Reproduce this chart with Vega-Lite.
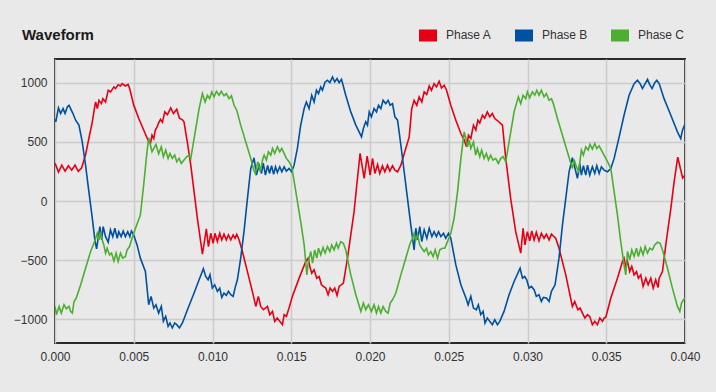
{
"$schema": "https://vega.github.io/schema/vega-lite/v6.json",
"width": 630, "height": 284,
"autosize": "none",
"padding": {"left": 55, "top": 59, "right": 31, "bottom": 49},
"background": "#e9e9e9",
"title": {"text": "Waveform", "anchor": "start", "frame": "group", "dx": -33, "dy": 33, "offset": 16, "fontSize": 15, "font": "Liberation Sans", "fontWeight": "bold", "color": "#1a1a1a"},
"data": {"values": [
{"p":"Phase A","t":0,"v":320},{"p":"Phase A","t":0.00022,"v":245},{"p":"Phase A","t":0.00043,"v":303},{"p":"Phase A","t":0.00064,"v":253},{"p":"Phase A","t":0.00085,"v":298},{"p":"Phase A","t":0.00106,"v":261},{"p":"Phase A","t":0.00127,"v":303},{"p":"Phase A","t":0.00148,"v":250},{"p":"Phase A","t":0.00169,"v":280},{"p":"Phase A","t":0.00194,"v":390},{"p":"Phase A","t":0.00215,"v":528},{"p":"Phase A","t":0.00237,"v":669},{"p":"Phase A","t":0.0025,"v":781},{"p":"Phase A","t":0.00258,"v":837},{"p":"Phase A","t":0.00269,"v":781},{"p":"Phase A","t":0.00279,"v":851},{"p":"Phase A","t":0.00295,"v":823},{"p":"Phase A","t":0.00304,"v":865},{"p":"Phase A","t":0.00321,"v":837},{"p":"Phase A","t":0.00338,"v":936},{"p":"Phase A","t":0.00353,"v":922},{"p":"Phase A","t":0.00374,"v":964},{"p":"Phase A","t":0.00384,"v":950},{"p":"Phase A","t":0.00401,"v":983},{"p":"Phase A","t":0.00416,"v":972},{"p":"Phase A","t":0.00426,"v":992},{"p":"Phase A","t":0.00447,"v":972},{"p":"Phase A","t":0.00464,"v":985},{"p":"Phase A","t":0.00473,"v":955},{"p":"Phase A","t":0.005,"v":810},{"p":"Phase A","t":0.00532,"v":697},{"p":"Phase A","t":0.00563,"v":600},{"p":"Phase A","t":0.00595,"v":500},{"p":"Phase A","t":0.00606,"v":486},{"p":"Phase A","t":0.00616,"v":556},{"p":"Phase A","t":0.00627,"v":528},{"p":"Phase A","t":0.00637,"v":599},{"p":"Phase A","t":0.00648,"v":627},{"p":"Phase A","t":0.00658,"v":660},{"p":"Phase A","t":0.0067,"v":690},{"p":"Phase A","t":0.00682,"v":665},{"p":"Phase A","t":0.00697,"v":753},{"p":"Phase A","t":0.00714,"v":730},{"p":"Phase A","t":0.00735,"v":787},{"p":"Phase A","t":0.00752,"v":739},{"p":"Phase A","t":0.00773,"v":776},{"p":"Phase A","t":0.0079,"v":700},{"p":"Phase A","t":0.00809,"v":686},{"p":"Phase A","t":0.00819,"v":669},{"p":"Phase A","t":0.0084,"v":500},{"p":"Phase A","t":0.00862,"v":303},{"p":"Phase A","t":0.00883,"v":79},{"p":"Phase A","t":0.00904,"v":-146},{"p":"Phase A","t":0.00936,"v":-450},{"p":"Phase A","t":0.00961,"v":-236},{"p":"Phase A","t":0.00974,"v":-385},{"p":"Phase A","t":0.00989,"v":-273},{"p":"Phase A","t":0.01004,"v":-357},{"p":"Phase A","t":0.01016,"v":-273},{"p":"Phase A","t":0.01031,"v":-343},{"p":"Phase A","t":0.01046,"v":-273},{"p":"Phase A","t":0.01059,"v":-329},{"p":"Phase A","t":0.01073,"v":-281},{"p":"Phase A","t":0.01088,"v":-329},{"p":"Phase A","t":0.01101,"v":-287},{"p":"Phase A","t":0.01116,"v":-329},{"p":"Phase A","t":0.01131,"v":-287},{"p":"Phase A","t":0.01143,"v":-315},{"p":"Phase A","t":0.01154,"v":-281},{"p":"Phase A","t":0.01169,"v":-329},{"p":"Phase A","t":0.0119,"v":-427},{"p":"Phase A","t":0.01211,"v":-540},{"p":"Phase A","t":0.01232,"v":-652},{"p":"Phase A","t":0.01253,"v":-764},{"p":"Phase A","t":0.01275,"v":-891},{"p":"Phase A","t":0.01291,"v":-806},{"p":"Phase A","t":0.01306,"v":-891},{"p":"Phase A","t":0.01323,"v":-919},{"p":"Phase A","t":0.01349,"v":-891},{"p":"Phase A","t":0.01364,"v":-961},{"p":"Phase A","t":0.01381,"v":-933},{"p":"Phase A","t":0.01395,"v":-1017},{"p":"Phase A","t":0.01412,"v":-989},{"p":"Phase A","t":0.01427,"v":-1017},{"p":"Phase A","t":0.01444,"v":-1045},{"p":"Phase A","t":0.01455,"v":-961},{"p":"Phase A","t":0.01469,"v":-975},{"p":"Phase A","t":0.01486,"v":-905},{"p":"Phase A","t":0.01507,"v":-806},{"p":"Phase A","t":0.0155,"v":-652},{"p":"Phase A","t":0.01592,"v":-511},{"p":"Phase A","t":0.01607,"v":-483},{"p":"Phase A","t":0.01618,"v":-553},{"p":"Phase A","t":0.0163,"v":-610},{"p":"Phase A","t":0.01645,"v":-582},{"p":"Phase A","t":0.01662,"v":-652},{"p":"Phase A","t":0.01677,"v":-638},{"p":"Phase A","t":0.01692,"v":-708},{"p":"Phase A","t":0.01704,"v":-722},{"p":"Phase A","t":0.01719,"v":-736},{"p":"Phase A","t":0.01734,"v":-792},{"p":"Phase A","t":0.01747,"v":-736},{"p":"Phase A","t":0.01762,"v":-764},{"p":"Phase A","t":0.01776,"v":-736},{"p":"Phase A","t":0.01791,"v":-798},{"p":"Phase A","t":0.01804,"v":-722},{"p":"Phase A","t":0.01831,"v":-694},{"p":"Phase A","t":0.01857,"v":-483},{"p":"Phase A","t":0.01878,"v":-287},{"p":"Phase A","t":0.01899,"v":-90},{"p":"Phase A","t":0.01916,"v":135},{"p":"Phase A","t":0.01937,"v":402},{"p":"Phase A","t":0.01963,"v":191},{"p":"Phase A","t":0.01982,"v":380},{"p":"Phase A","t":0.02001,"v":219},{"p":"Phase A","t":0.02016,"v":360},{"p":"Phase A","t":0.02031,"v":233},{"p":"Phase A","t":0.02048,"v":309},{"p":"Phase A","t":0.02062,"v":233},{"p":"Phase A","t":0.02079,"v":298},{"p":"Phase A","t":0.02094,"v":247},{"p":"Phase A","t":0.02111,"v":303},{"p":"Phase A","t":0.02126,"v":253},{"p":"Phase A","t":0.02143,"v":298},{"p":"Phase A","t":0.02158,"v":261},{"p":"Phase A","t":0.02175,"v":247},{"p":"Phase A","t":0.02196,"v":303},{"p":"Phase A","t":0.02221,"v":416},{"p":"Phase A","t":0.02249,"v":542},{"p":"Phase A","t":0.02265,"v":780},{"p":"Phase A","t":0.0228,"v":851},{"p":"Phase A","t":0.02297,"v":809},{"p":"Phase A","t":0.02312,"v":880},{"p":"Phase A","t":0.02329,"v":837},{"p":"Phase A","t":0.02344,"v":922},{"p":"Phase A","t":0.0236,"v":900},{"p":"Phase A","t":0.02376,"v":972},{"p":"Phase A","t":0.0239,"v":936},{"p":"Phase A","t":0.02407,"v":992},{"p":"Phase A","t":0.02422,"v":964},{"p":"Phase A","t":0.02439,"v":1012},{"p":"Phase A","t":0.02454,"v":955},{"p":"Phase A","t":0.02471,"v":978},{"p":"Phase A","t":0.02486,"v":936},{"p":"Phase A","t":0.02513,"v":809},{"p":"Phase A","t":0.02545,"v":683},{"p":"Phase A","t":0.02577,"v":570},{"p":"Phase A","t":0.02598,"v":514},{"p":"Phase A","t":0.02613,"v":458},{"p":"Phase A","t":0.02625,"v":556},{"p":"Phase A","t":0.0264,"v":528},{"p":"Phase A","t":0.02657,"v":641},{"p":"Phase A","t":0.02672,"v":600},{"p":"Phase A","t":0.02685,"v":683},{"p":"Phase A","t":0.02697,"v":660},{"p":"Phase A","t":0.02714,"v":725},{"p":"Phase A","t":0.02728,"v":700},{"p":"Phase A","t":0.02745,"v":753},{"p":"Phase A","t":0.0276,"v":711},{"p":"Phase A","t":0.02777,"v":739},{"p":"Phase A","t":0.02792,"v":697},{"p":"Phase A","t":0.02809,"v":680},{"p":"Phase A","t":0.02841,"v":641},{"p":"Phase A","t":0.02862,"v":360},{"p":"Phase A","t":0.02893,"v":22},{"p":"Phase A","t":0.02925,"v":-259},{"p":"Phase A","t":0.02957,"v":-441},{"p":"Phase A","t":0.02972,"v":-230},{"p":"Phase A","t":0.02984,"v":-371},{"p":"Phase A","t":0.02999,"v":-259},{"p":"Phase A","t":0.03014,"v":-337},{"p":"Phase A","t":0.03027,"v":-253},{"p":"Phase A","t":0.03042,"v":-329},{"p":"Phase A","t":0.03056,"v":-264},{"p":"Phase A","t":0.03073,"v":-337},{"p":"Phase A","t":0.03088,"v":-273},{"p":"Phase A","t":0.03105,"v":-315},{"p":"Phase A","t":0.0312,"v":-281},{"p":"Phase A","t":0.03137,"v":-329},{"p":"Phase A","t":0.03152,"v":-281},{"p":"Phase A","t":0.03179,"v":-315},{"p":"Phase A","t":0.032,"v":-399},{"p":"Phase A","t":0.03243,"v":-624},{"p":"Phase A","t":0.03285,"v":-891},{"p":"Phase A","t":0.033,"v":-849},{"p":"Phase A","t":0.0332,"v":-919},{"p":"Phase A","t":0.03334,"v":-905},{"p":"Phase A","t":0.03349,"v":-947},{"p":"Phase A","t":0.03364,"v":-989},{"p":"Phase A","t":0.03381,"v":-961},{"p":"Phase A","t":0.03395,"v":-975},{"p":"Phase A","t":0.03412,"v":-1045},{"p":"Phase A","t":0.03427,"v":-1017},{"p":"Phase A","t":0.03444,"v":-1045},{"p":"Phase A","t":0.03459,"v":-989},{"p":"Phase A","t":0.03476,"v":-1017},{"p":"Phase A","t":0.03486,"v":-989},{"p":"Phase A","t":0.03497,"v":-983},{"p":"Phase A","t":0.03529,"v":-820},{"p":"Phase A","t":0.03571,"v":-652},{"p":"Phase A","t":0.03603,"v":-511},{"p":"Phase A","t":0.03613,"v":-483},{"p":"Phase A","t":0.03624,"v":-553},{"p":"Phase A","t":0.03635,"v":-511},{"p":"Phase A","t":0.03649,"v":-596},{"p":"Phase A","t":0.03662,"v":-553},{"p":"Phase A","t":0.03677,"v":-624},{"p":"Phase A","t":0.03692,"v":-596},{"p":"Phase A","t":0.03704,"v":-652},{"p":"Phase A","t":0.03719,"v":-624},{"p":"Phase A","t":0.03734,"v":-722},{"p":"Phase A","t":0.03751,"v":-652},{"p":"Phase A","t":0.03766,"v":-708},{"p":"Phase A","t":0.03783,"v":-652},{"p":"Phase A","t":0.03798,"v":-736},{"p":"Phase A","t":0.03814,"v":-666},{"p":"Phase A","t":0.03829,"v":-731},{"p":"Phase A","t":0.03836,"v":-652},{"p":"Phase A","t":0.03857,"v":-596},{"p":"Phase A","t":0.03878,"v":-371},{"p":"Phase A","t":0.0391,"v":-62},{"p":"Phase A","t":0.03931,"v":163},{"p":"Phase A","t":0.03954,"v":370},{"p":"Phase A","t":0.03985,"v":194},{"p":"Phase A","t":0.04,"v":220},
{"p":"Phase B","t":0,"v":690},{"p":"Phase B","t":0.00005,"v":669},{"p":"Phase B","t":0.00022,"v":787},{"p":"Phase B","t":0.00036,"v":739},{"p":"Phase B","t":0.00051,"v":781},{"p":"Phase B","t":0.00064,"v":739},{"p":"Phase B","t":0.00078,"v":795},{"p":"Phase B","t":0.00089,"v":809},{"p":"Phase B","t":0.00099,"v":781},{"p":"Phase B","t":0.00114,"v":739},{"p":"Phase B","t":0.00131,"v":683},{"p":"Phase B","t":0.00152,"v":641},{"p":"Phase B","t":0.00173,"v":500},{"p":"Phase B","t":0.00194,"v":303},{"p":"Phase B","t":0.00215,"v":79},{"p":"Phase B","t":0.00237,"v":-146},{"p":"Phase B","t":0.00253,"v":-329},{"p":"Phase B","t":0.00264,"v":-405},{"p":"Phase B","t":0.00274,"v":-315},{"p":"Phase B","t":0.00285,"v":-216},{"p":"Phase B","t":0.00296,"v":-329},{"p":"Phase B","t":0.00306,"v":-216},{"p":"Phase B","t":0.00321,"v":-301},{"p":"Phase B","t":0.00338,"v":-348},{"p":"Phase B","t":0.00352,"v":-244},{"p":"Phase B","t":0.00367,"v":-301},{"p":"Phase B","t":0.0038,"v":-230},{"p":"Phase B","t":0.00395,"v":-315},{"p":"Phase B","t":0.00405,"v":-259},{"p":"Phase B","t":0.0042,"v":-301},{"p":"Phase B","t":0.00433,"v":-253},{"p":"Phase B","t":0.00447,"v":-301},{"p":"Phase B","t":0.00462,"v":-259},{"p":"Phase B","t":0.00475,"v":-301},{"p":"Phase B","t":0.00485,"v":-253},{"p":"Phase B","t":0.005,"v":-287},{"p":"Phase B","t":0.00521,"v":-371},{"p":"Phase B","t":0.00542,"v":-483},{"p":"Phase B","t":0.00574,"v":-596},{"p":"Phase B","t":0.00595,"v":-877},{"p":"Phase B","t":0.0061,"v":-806},{"p":"Phase B","t":0.00627,"v":-905},{"p":"Phase B","t":0.00641,"v":-877},{"p":"Phase B","t":0.00658,"v":-947},{"p":"Phase B","t":0.00675,"v":-891},{"p":"Phase B","t":0.00688,"v":-1017},{"p":"Phase B","t":0.00703,"v":-975},{"p":"Phase B","t":0.00718,"v":-1059},{"p":"Phase B","t":0.0073,"v":-1031},{"p":"Phase B","t":0.00745,"v":-1073},{"p":"Phase B","t":0.0076,"v":-1031},{"p":"Phase B","t":0.00773,"v":-1045},{"p":"Phase B","t":0.0079,"v":-1073},{"p":"Phase B","t":0.00809,"v":-1031},{"p":"Phase B","t":0.00841,"v":-919},{"p":"Phase B","t":0.00883,"v":-778},{"p":"Phase B","t":0.00915,"v":-666},{"p":"Phase B","t":0.00942,"v":-573},{"p":"Phase B","t":0.00957,"v":-638},{"p":"Phase B","t":0.00972,"v":-666},{"p":"Phase B","t":0.00984,"v":-624},{"p":"Phase B","t":0.00999,"v":-736},{"p":"Phase B","t":0.01014,"v":-708},{"p":"Phase B","t":0.01031,"v":-764},{"p":"Phase B","t":0.01046,"v":-736},{"p":"Phase B","t":0.01059,"v":-815},{"p":"Phase B","t":0.01073,"v":-778},{"p":"Phase B","t":0.01088,"v":-798},{"p":"Phase B","t":0.01101,"v":-764},{"p":"Phase B","t":0.01116,"v":-792},{"p":"Phase B","t":0.01131,"v":-806},{"p":"Phase B","t":0.01143,"v":-736},{"p":"Phase B","t":0.01158,"v":-666},{"p":"Phase B","t":0.01179,"v":-483},{"p":"Phase B","t":0.012,"v":-259},{"p":"Phase B","t":0.01222,"v":22},{"p":"Phase B","t":0.01243,"v":275},{"p":"Phase B","t":0.01264,"v":365},{"p":"Phase B","t":0.01279,"v":219},{"p":"Phase B","t":0.01296,"v":303},{"p":"Phase B","t":0.01311,"v":233},{"p":"Phase B","t":0.01322,"v":320},{"p":"Phase B","t":0.01336,"v":219},{"p":"Phase B","t":0.0135,"v":300},{"p":"Phase B","t":0.01362,"v":233},{"p":"Phase B","t":0.01375,"v":298},{"p":"Phase B","t":0.01388,"v":225},{"p":"Phase B","t":0.014,"v":289},{"p":"Phase B","t":0.01412,"v":241},{"p":"Phase B","t":0.01427,"v":289},{"p":"Phase B","t":0.0144,"v":247},{"p":"Phase B","t":0.01455,"v":289},{"p":"Phase B","t":0.01469,"v":253},{"p":"Phase B","t":0.01486,"v":275},{"p":"Phase B","t":0.01503,"v":247},{"p":"Phase B","t":0.01518,"v":303},{"p":"Phase B","t":0.01539,"v":444},{"p":"Phase B","t":0.0156,"v":641},{"p":"Phase B","t":0.01582,"v":781},{"p":"Phase B","t":0.01596,"v":837},{"p":"Phase B","t":0.01613,"v":781},{"p":"Phase B","t":0.0163,"v":894},{"p":"Phase B","t":0.01645,"v":837},{"p":"Phase B","t":0.0166,"v":936},{"p":"Phase B","t":0.01673,"v":908},{"p":"Phase B","t":0.01687,"v":964},{"p":"Phase B","t":0.01698,"v":936},{"p":"Phase B","t":0.01715,"v":1006},{"p":"Phase B","t":0.0173,"v":1020},{"p":"Phase B","t":0.01745,"v":1000},{"p":"Phase B","t":0.01762,"v":1048},{"p":"Phase B","t":0.01776,"v":1006},{"p":"Phase B","t":0.01791,"v":1034},{"p":"Phase B","t":0.01804,"v":1000},{"p":"Phase B","t":0.01819,"v":1028},{"p":"Phase B","t":0.01846,"v":894},{"p":"Phase B","t":0.01878,"v":753},{"p":"Phase B","t":0.0191,"v":641},{"p":"Phase B","t":0.01946,"v":542},{"p":"Phase B","t":0.01958,"v":613},{"p":"Phase B","t":0.01973,"v":669},{"p":"Phase B","t":0.01984,"v":641},{"p":"Phase B","t":0.01995,"v":753},{"p":"Phase B","t":0.02009,"v":711},{"p":"Phase B","t":0.02026,"v":781},{"p":"Phase B","t":0.02041,"v":753},{"p":"Phase B","t":0.02054,"v":809},{"p":"Phase B","t":0.02069,"v":781},{"p":"Phase B","t":0.02083,"v":851},{"p":"Phase B","t":0.021,"v":823},{"p":"Phase B","t":0.02115,"v":851},{"p":"Phase B","t":0.02128,"v":809},{"p":"Phase B","t":0.02143,"v":823},{"p":"Phase B","t":0.02158,"v":711},{"p":"Phase B","t":0.02175,"v":683},{"p":"Phase B","t":0.02196,"v":472},{"p":"Phase B","t":0.02217,"v":247},{"p":"Phase B","t":0.02238,"v":22},{"p":"Phase B","t":0.02259,"v":-202},{"p":"Phase B","t":0.0228,"v":-413},{"p":"Phase B","t":0.02291,"v":-230},{"p":"Phase B","t":0.02302,"v":-329},{"p":"Phase B","t":0.02316,"v":-216},{"p":"Phase B","t":0.02329,"v":-343},{"p":"Phase B","t":0.02344,"v":-244},{"p":"Phase B","t":0.02361,"v":-315},{"p":"Phase B","t":0.02376,"v":-230},{"p":"Phase B","t":0.02393,"v":-301},{"p":"Phase B","t":0.02407,"v":-259},{"p":"Phase B","t":0.02422,"v":-301},{"p":"Phase B","t":0.02435,"v":-259},{"p":"Phase B","t":0.0245,"v":-301},{"p":"Phase B","t":0.02467,"v":-273},{"p":"Phase B","t":0.02481,"v":-315},{"p":"Phase B","t":0.02498,"v":-273},{"p":"Phase B","t":0.02513,"v":-315},{"p":"Phase B","t":0.02545,"v":-540},{"p":"Phase B","t":0.02577,"v":-708},{"p":"Phase B","t":0.02609,"v":-820},{"p":"Phase B","t":0.02623,"v":-877},{"p":"Phase B","t":0.0264,"v":-806},{"p":"Phase B","t":0.02657,"v":-905},{"p":"Phase B","t":0.02675,"v":-919},{"p":"Phase B","t":0.02688,"v":-877},{"p":"Phase B","t":0.02703,"v":-961},{"p":"Phase B","t":0.02718,"v":-933},{"p":"Phase B","t":0.0273,"v":-1031},{"p":"Phase B","t":0.02745,"v":-989},{"p":"Phase B","t":0.0276,"v":-1017},{"p":"Phase B","t":0.02777,"v":-1045},{"p":"Phase B","t":0.02792,"v":-1003},{"p":"Phase B","t":0.02809,"v":-1045},{"p":"Phase B","t":0.02824,"v":-1017},{"p":"Phase B","t":0.02851,"v":-933},{"p":"Phase B","t":0.02883,"v":-792},{"p":"Phase B","t":0.02915,"v":-680},{"p":"Phase B","t":0.02953,"v":-568},{"p":"Phase B","t":0.02968,"v":-652},{"p":"Phase B","t":0.02982,"v":-638},{"p":"Phase B","t":0.02995,"v":-666},{"p":"Phase B","t":0.0301,"v":-736},{"p":"Phase B","t":0.03025,"v":-722},{"p":"Phase B","t":0.03042,"v":-750},{"p":"Phase B","t":0.03056,"v":-806},{"p":"Phase B","t":0.03073,"v":-792},{"p":"Phase B","t":0.03088,"v":-849},{"p":"Phase B","t":0.03101,"v":-815},{"p":"Phase B","t":0.0312,"v":-820},{"p":"Phase B","t":0.03137,"v":-849},{"p":"Phase B","t":0.03152,"v":-764},{"p":"Phase B","t":0.03175,"v":-708},{"p":"Phase B","t":0.032,"v":-483},{"p":"Phase B","t":0.03222,"v":-202},{"p":"Phase B","t":0.03243,"v":22},{"p":"Phase B","t":0.03264,"v":247},{"p":"Phase B","t":0.03285,"v":365},{"p":"Phase B","t":0.03302,"v":275},{"p":"Phase B","t":0.03317,"v":191},{"p":"Phase B","t":0.03332,"v":318},{"p":"Phase B","t":0.03342,"v":219},{"p":"Phase B","t":0.03355,"v":298},{"p":"Phase B","t":0.0337,"v":219},{"p":"Phase B","t":0.03381,"v":303},{"p":"Phase B","t":0.03395,"v":219},{"p":"Phase B","t":0.03412,"v":289},{"p":"Phase B","t":0.03427,"v":233},{"p":"Phase B","t":0.0344,"v":298},{"p":"Phase B","t":0.03455,"v":233},{"p":"Phase B","t":0.03469,"v":289},{"p":"Phase B","t":0.03486,"v":261},{"p":"Phase B","t":0.03508,"v":247},{"p":"Phase B","t":0.03529,"v":275},{"p":"Phase B","t":0.0355,"v":360},{"p":"Phase B","t":0.03582,"v":542},{"p":"Phase B","t":0.03613,"v":725},{"p":"Phase B","t":0.03645,"v":894},{"p":"Phase B","t":0.03677,"v":992},{"p":"Phase B","t":0.03698,"v":1020},{"p":"Phase B","t":0.03715,"v":992},{"p":"Phase B","t":0.0373,"v":950},{"p":"Phase B","t":0.03747,"v":992},{"p":"Phase B","t":0.03762,"v":1028},{"p":"Phase B","t":0.03776,"v":983},{"p":"Phase B","t":0.03791,"v":950},{"p":"Phase B","t":0.03808,"v":1000},{"p":"Phase B","t":0.03821,"v":1020},{"p":"Phase B","t":0.03836,"v":992},{"p":"Phase B","t":0.03867,"v":865},{"p":"Phase B","t":0.0391,"v":725},{"p":"Phase B","t":0.03952,"v":584},{"p":"Phase B","t":0.03973,"v":528},{"p":"Phase B","t":0.03984,"v":599},{"p":"Phase B","t":0.04,"v":650},
{"p":"Phase C","t":0,"v":-891},{"p":"Phase C","t":0.00009,"v":-961},{"p":"Phase C","t":0.00026,"v":-891},{"p":"Phase C","t":0.0004,"v":-947},{"p":"Phase C","t":0.00057,"v":-877},{"p":"Phase C","t":0.00072,"v":-910},{"p":"Phase C","t":0.00089,"v":-891},{"p":"Phase C","t":0.00099,"v":-933},{"p":"Phase C","t":0.0011,"v":-947},{"p":"Phase C","t":0.00121,"v":-849},{"p":"Phase C","t":0.00135,"v":-820},{"p":"Phase C","t":0.00163,"v":-708},{"p":"Phase C","t":0.00194,"v":-568},{"p":"Phase C","t":0.00226,"v":-427},{"p":"Phase C","t":0.00253,"v":-337},{"p":"Phase C","t":0.00268,"v":-273},{"p":"Phase C","t":0.00279,"v":-329},{"p":"Phase C","t":0.00289,"v":-259},{"p":"Phase C","t":0.003,"v":-329},{"p":"Phase C","t":0.0031,"v":-371},{"p":"Phase C","t":0.00321,"v":-441},{"p":"Phase C","t":0.00331,"v":-399},{"p":"Phase C","t":0.00346,"v":-455},{"p":"Phase C","t":0.00359,"v":-441},{"p":"Phase C","t":0.00374,"v":-506},{"p":"Phase C","t":0.00388,"v":-441},{"p":"Phase C","t":0.00401,"v":-511},{"p":"Phase C","t":0.00416,"v":-441},{"p":"Phase C","t":0.0043,"v":-483},{"p":"Phase C","t":0.00447,"v":-469},{"p":"Phase C","t":0.00458,"v":-413},{"p":"Phase C","t":0.00473,"v":-385},{"p":"Phase C","t":0.00489,"v":-315},{"p":"Phase C","t":0.00511,"v":-230},{"p":"Phase C","t":0.00542,"v":-118},{"p":"Phase C","t":0.00563,"v":135},{"p":"Phase C","t":0.00584,"v":416},{"p":"Phase C","t":0.00595,"v":534},{"p":"Phase C","t":0.00616,"v":416},{"p":"Phase C","t":0.00641,"v":478},{"p":"Phase C","t":0.00658,"v":400},{"p":"Phase C","t":0.00675,"v":458},{"p":"Phase C","t":0.00688,"v":374},{"p":"Phase C","t":0.00703,"v":430},{"p":"Phase C","t":0.00718,"v":360},{"p":"Phase C","t":0.0073,"v":402},{"p":"Phase C","t":0.00745,"v":360},{"p":"Phase C","t":0.0076,"v":388},{"p":"Phase C","t":0.00773,"v":332},{"p":"Phase C","t":0.00788,"v":360},{"p":"Phase C","t":0.00802,"v":318},{"p":"Phase C","t":0.00819,"v":346},{"p":"Phase C","t":0.00836,"v":374},{"p":"Phase C","t":0.00851,"v":388},{"p":"Phase C","t":0.00862,"v":360},{"p":"Phase C","t":0.00883,"v":528},{"p":"Phase C","t":0.00915,"v":781},{"p":"Phase C","t":0.00936,"v":908},{"p":"Phase C","t":0.00953,"v":837},{"p":"Phase C","t":0.00968,"v":894},{"p":"Phase C","t":0.00982,"v":865},{"p":"Phase C","t":0.00995,"v":922},{"p":"Phase C","t":0.0101,"v":880},{"p":"Phase C","t":0.01025,"v":927},{"p":"Phase C","t":0.01042,"v":894},{"p":"Phase C","t":0.01056,"v":927},{"p":"Phase C","t":0.01073,"v":889},{"p":"Phase C","t":0.01088,"v":908},{"p":"Phase C","t":0.01105,"v":865},{"p":"Phase C","t":0.0112,"v":889},{"p":"Phase C","t":0.01137,"v":809},{"p":"Phase C","t":0.01154,"v":767},{"p":"Phase C","t":0.01179,"v":641},{"p":"Phase C","t":0.01211,"v":500},{"p":"Phase C","t":0.01243,"v":360},{"p":"Phase C","t":0.01262,"v":260},{"p":"Phase C","t":0.01272,"v":233},{"p":"Phase C","t":0.01287,"v":331},{"p":"Phase C","t":0.01304,"v":247},{"p":"Phase C","t":0.0132,"v":360},{"p":"Phase C","t":0.01328,"v":388},{"p":"Phase C","t":0.01342,"v":346},{"p":"Phase C","t":0.01355,"v":416},{"p":"Phase C","t":0.0137,"v":388},{"p":"Phase C","t":0.01381,"v":444},{"p":"Phase C","t":0.01395,"v":402},{"p":"Phase C","t":0.01412,"v":458},{"p":"Phase C","t":0.01427,"v":416},{"p":"Phase C","t":0.0144,"v":444},{"p":"Phase C","t":0.01455,"v":402},{"p":"Phase C","t":0.01469,"v":360},{"p":"Phase C","t":0.01486,"v":332},{"p":"Phase C","t":0.01503,"v":289},{"p":"Phase C","t":0.01529,"v":79},{"p":"Phase C","t":0.0156,"v":-174},{"p":"Phase C","t":0.01582,"v":-371},{"p":"Phase C","t":0.01599,"v":-624},{"p":"Phase C","t":0.01609,"v":-511},{"p":"Phase C","t":0.01624,"v":-427},{"p":"Phase C","t":0.01635,"v":-525},{"p":"Phase C","t":0.01649,"v":-413},{"p":"Phase C","t":0.01662,"v":-483},{"p":"Phase C","t":0.01673,"v":-399},{"p":"Phase C","t":0.01687,"v":-455},{"p":"Phase C","t":0.01702,"v":-393},{"p":"Phase C","t":0.01715,"v":-441},{"p":"Phase C","t":0.0173,"v":-385},{"p":"Phase C","t":0.01745,"v":-427},{"p":"Phase C","t":0.01757,"v":-371},{"p":"Phase C","t":0.01772,"v":-413},{"p":"Phase C","t":0.01787,"v":-357},{"p":"Phase C","t":0.01798,"v":-399},{"p":"Phase C","t":0.01814,"v":-343},{"p":"Phase C","t":0.01831,"v":-357},{"p":"Phase C","t":0.01846,"v":-413},{"p":"Phase C","t":0.01878,"v":-624},{"p":"Phase C","t":0.0191,"v":-792},{"p":"Phase C","t":0.01942,"v":-933},{"p":"Phase C","t":0.01958,"v":-863},{"p":"Phase C","t":0.01973,"v":-919},{"p":"Phase C","t":0.0199,"v":-877},{"p":"Phase C","t":0.02009,"v":-933},{"p":"Phase C","t":0.02026,"v":-877},{"p":"Phase C","t":0.02041,"v":-947},{"p":"Phase C","t":0.02054,"v":-891},{"p":"Phase C","t":0.02069,"v":-947},{"p":"Phase C","t":0.02083,"v":-891},{"p":"Phase C","t":0.021,"v":-933},{"p":"Phase C","t":0.02115,"v":-947},{"p":"Phase C","t":0.02128,"v":-863},{"p":"Phase C","t":0.02143,"v":-835},{"p":"Phase C","t":0.02164,"v":-778},{"p":"Phase C","t":0.02196,"v":-624},{"p":"Phase C","t":0.02227,"v":-483},{"p":"Phase C","t":0.02255,"v":-357},{"p":"Phase C","t":0.0227,"v":-315},{"p":"Phase C","t":0.0228,"v":-273},{"p":"Phase C","t":0.02291,"v":-329},{"p":"Phase C","t":0.02302,"v":-287},{"p":"Phase C","t":0.02316,"v":-371},{"p":"Phase C","t":0.02329,"v":-399},{"p":"Phase C","t":0.02344,"v":-427},{"p":"Phase C","t":0.02359,"v":-399},{"p":"Phase C","t":0.02371,"v":-455},{"p":"Phase C","t":0.02386,"v":-427},{"p":"Phase C","t":0.02401,"v":-469},{"p":"Phase C","t":0.02414,"v":-413},{"p":"Phase C","t":0.02429,"v":-483},{"p":"Phase C","t":0.02443,"v":-413},{"p":"Phase C","t":0.0246,"v":-399},{"p":"Phase C","t":0.02475,"v":-399},{"p":"Phase C","t":0.02492,"v":-343},{"p":"Phase C","t":0.02513,"v":-273},{"p":"Phase C","t":0.02534,"v":-146},{"p":"Phase C","t":0.02556,"v":79},{"p":"Phase C","t":0.02577,"v":360},{"p":"Phase C","t":0.02598,"v":584},{"p":"Phase C","t":0.02609,"v":528},{"p":"Phase C","t":0.02619,"v":458},{"p":"Phase C","t":0.0263,"v":514},{"p":"Phase C","t":0.0264,"v":444},{"p":"Phase C","t":0.02657,"v":500},{"p":"Phase C","t":0.02671,"v":388},{"p":"Phase C","t":0.02682,"v":444},{"p":"Phase C","t":0.02697,"v":374},{"p":"Phase C","t":0.02709,"v":430},{"p":"Phase C","t":0.02724,"v":360},{"p":"Phase C","t":0.02739,"v":402},{"p":"Phase C","t":0.02752,"v":346},{"p":"Phase C","t":0.02766,"v":388},{"p":"Phase C","t":0.02781,"v":346},{"p":"Phase C","t":0.02798,"v":360},{"p":"Phase C","t":0.02815,"v":318},{"p":"Phase C","t":0.0283,"v":360},{"p":"Phase C","t":0.02845,"v":374},{"p":"Phase C","t":0.02862,"v":332},{"p":"Phase C","t":0.02883,"v":500},{"p":"Phase C","t":0.02915,"v":753},{"p":"Phase C","t":0.02942,"v":880},{"p":"Phase C","t":0.02957,"v":823},{"p":"Phase C","t":0.02972,"v":894},{"p":"Phase C","t":0.02989,"v":865},{"p":"Phase C","t":0.02999,"v":922},{"p":"Phase C","t":0.03014,"v":872},{"p":"Phase C","t":0.03031,"v":922},{"p":"Phase C","t":0.03046,"v":894},{"p":"Phase C","t":0.03059,"v":936},{"p":"Phase C","t":0.03073,"v":894},{"p":"Phase C","t":0.03088,"v":936},{"p":"Phase C","t":0.03105,"v":880},{"p":"Phase C","t":0.0312,"v":908},{"p":"Phase C","t":0.03137,"v":851},{"p":"Phase C","t":0.03152,"v":865},{"p":"Phase C","t":0.03164,"v":823},{"p":"Phase C","t":0.0319,"v":697},{"p":"Phase C","t":0.03222,"v":556},{"p":"Phase C","t":0.03253,"v":416},{"p":"Phase C","t":0.03285,"v":275},{"p":"Phase C","t":0.03296,"v":350},{"p":"Phase C","t":0.0331,"v":290},{"p":"Phase C","t":0.03325,"v":250},{"p":"Phase C","t":0.03342,"v":430},{"p":"Phase C","t":0.03355,"v":388},{"p":"Phase C","t":0.0337,"v":458},{"p":"Phase C","t":0.03385,"v":430},{"p":"Phase C","t":0.03397,"v":478},{"p":"Phase C","t":0.03412,"v":438},{"p":"Phase C","t":0.03427,"v":486},{"p":"Phase C","t":0.0344,"v":444},{"p":"Phase C","t":0.03455,"v":466},{"p":"Phase C","t":0.03469,"v":430},{"p":"Phase C","t":0.03486,"v":388},{"p":"Phase C","t":0.03508,"v":332},{"p":"Phase C","t":0.03529,"v":275},{"p":"Phase C","t":0.0355,"v":79},{"p":"Phase C","t":0.03571,"v":-118},{"p":"Phase C","t":0.03592,"v":-343},{"p":"Phase C","t":0.03613,"v":-540},{"p":"Phase C","t":0.03624,"v":-624},{"p":"Phase C","t":0.03635,"v":-427},{"p":"Phase C","t":0.03649,"v":-497},{"p":"Phase C","t":0.03662,"v":-413},{"p":"Phase C","t":0.03677,"v":-469},{"p":"Phase C","t":0.03692,"v":-399},{"p":"Phase C","t":0.03704,"v":-469},{"p":"Phase C","t":0.03719,"v":-399},{"p":"Phase C","t":0.03734,"v":-455},{"p":"Phase C","t":0.03747,"v":-385},{"p":"Phase C","t":0.03762,"v":-441},{"p":"Phase C","t":0.03776,"v":-399},{"p":"Phase C","t":0.03793,"v":-413},{"p":"Phase C","t":0.03808,"v":-371},{"p":"Phase C","t":0.03825,"v":-348},{"p":"Phase C","t":0.03842,"v":-357},{"p":"Phase C","t":0.03857,"v":-413},{"p":"Phase C","t":0.03889,"v":-568},{"p":"Phase C","t":0.0392,"v":-736},{"p":"Phase C","t":0.03952,"v":-891},{"p":"Phase C","t":0.03967,"v":-933},{"p":"Phase C","t":0.03978,"v":-863},{"p":"Phase C","t":0.0399,"v":-835},{"p":"Phase C","t":0.04,"v":-820}
]},
"mark": {"type": "line", "strokeWidth": 1.6, "clip": true},
"encoding": {
  "x": {"field": "t", "type": "quantitative",
    "scale": {"domain": [0, 0.04], "nice": false, "zero": false},
    "axis": {"values": [0, 0.005, 0.01, 0.015, 0.02, 0.025, 0.03, 0.035, 0.04], "format": ".3f", "title": null, "ticks": false, "domain": false, "labelPadding": 8, "labelFontSize": 12, "labelFont": "Liberation Sans", "labelColor": "#333333", "gridColor": "#cccccc", "gridWidth": 1.5, "labelFlush": false}},
  "y": {"field": "v", "type": "quantitative",
    "scale": {"domain": [-1200, 1200], "nice": false, "zero": false},
    "axis": {"values": [-1000, -500, 0, 500, 1000], "format": "d", "title": null, "ticks": false, "domain": false, "labelPadding": 8, "labelFontSize": 12, "labelFont": "Liberation Sans", "labelColor": "#333333", "gridColor": "#cccccc", "gridWidth": 1.5}},
  "color": {"field": "p", "type": "nominal",
    "scale": {"domain": ["Phase A", "Phase B", "Phase C"], "range": ["#e60014", "#00519f", "#4caf32"]},
    "legend": {"title": null, "orient": "none", "legendX": 364, "legendY": -33, "direction": "horizontal", "symbolType": "M-1,-0.667H1V0.667H-1Z", "symbolSize": 324, "symbolStrokeWidth": 0, "labelFontSize": 12, "labelFont": "Liberation Sans", "labelColor": "#333333", "labelOffset": 9, "columnPadding": 23, "padding": 0,
      "encode": {"symbols": {"update": {"fill": {"scale": "color", "field": "value"}, "fillOpacity": {"value": 1}, "strokeWidth": {"value": 0}}}}}}
},
"config": {"view": {"stroke": "#2a2a2a", "strokeWidth": 2, "fill": "#e9e9e9"}}
}
